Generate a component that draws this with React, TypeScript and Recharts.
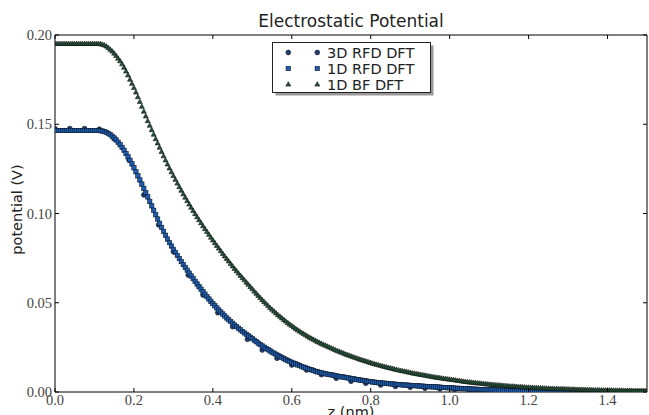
import React from 'react';
import { ScatterChart, Scatter, XAxis, YAxis, Legend, Label } from 'recharts';

const TITLE = 'Electrostatic Potential';
const X_LABEL = 'z (nm)';
const Y_LABEL = 'potential (V)';
const SERIES_NAMES = ['3D RFD DFT', '1D RFD DFT', '1D BF DFT'];
const X_TICKS = [0, 0.2, 0.4, 0.6, 0.8, 1.0, 1.2, 1.4];
const Y_TICKS = [0, 0.05, 0.1, 0.15, 0.2];

// 1D grid, nm
const Z_1D = [
  0, 0.005, 0.01, 0.015, 0.02, 0.025, 0.03, 0.035, 0.04, 0.045,
  0.05, 0.055, 0.06, 0.065, 0.07, 0.075, 0.08, 0.085, 0.09, 0.095,
  0.1, 0.105, 0.11, 0.115, 0.12, 0.125, 0.13, 0.135, 0.14, 0.145,
  0.15, 0.155, 0.16, 0.165, 0.17, 0.175, 0.18, 0.185, 0.19, 0.195,
  0.2, 0.205, 0.21, 0.215, 0.22, 0.225, 0.23, 0.235, 0.24, 0.245,
  0.25, 0.255, 0.26, 0.265, 0.27, 0.275, 0.28, 0.285, 0.29, 0.295,
  0.3, 0.305, 0.31, 0.315, 0.32, 0.325, 0.33, 0.335, 0.34, 0.345,
  0.35, 0.355, 0.36, 0.365, 0.37, 0.375, 0.38, 0.385, 0.39, 0.395,
  0.4, 0.405, 0.41, 0.415, 0.42, 0.425, 0.43, 0.435, 0.44, 0.445,
  0.45, 0.455, 0.46, 0.465, 0.47, 0.475, 0.48, 0.485, 0.49, 0.495,
  0.5, 0.505, 0.51, 0.515, 0.52, 0.525, 0.53, 0.535, 0.54, 0.545,
  0.55, 0.555, 0.56, 0.565, 0.57, 0.575, 0.58, 0.585, 0.59, 0.595,
  0.6, 0.605, 0.61, 0.615, 0.62, 0.625, 0.63, 0.635, 0.64, 0.645,
  0.65, 0.655, 0.66, 0.665, 0.67, 0.675, 0.68, 0.685, 0.69, 0.695,
  0.7, 0.705, 0.71, 0.715, 0.72, 0.725, 0.73, 0.735, 0.74, 0.745,
  0.75, 0.755, 0.76, 0.765, 0.77, 0.775, 0.78, 0.785, 0.79, 0.795,
  0.8, 0.805, 0.81, 0.815, 0.82, 0.825, 0.83, 0.835, 0.84, 0.845,
  0.85, 0.855, 0.86, 0.865, 0.87, 0.875, 0.88, 0.885, 0.89, 0.895,
  0.9, 0.905, 0.91, 0.915, 0.92, 0.925, 0.93, 0.935, 0.94, 0.945,
  0.95, 0.955, 0.96, 0.965, 0.97, 0.975, 0.98, 0.985, 0.99, 0.995,
  1.0, 1.005, 1.01, 1.015, 1.02, 1.025, 1.03, 1.035, 1.04, 1.045,
  1.05, 1.055, 1.06, 1.065, 1.07, 1.075, 1.08, 1.085, 1.09, 1.095,
  1.1, 1.105, 1.11, 1.115, 1.12, 1.125, 1.13, 1.135, 1.14, 1.145,
  1.15, 1.155, 1.16, 1.165, 1.17, 1.175, 1.18, 1.185, 1.19, 1.195,
  1.2, 1.205, 1.21, 1.215, 1.22, 1.225, 1.23, 1.235, 1.24, 1.245,
  1.25, 1.255, 1.26, 1.265, 1.27, 1.275, 1.28, 1.285, 1.29, 1.295,
  1.3, 1.305, 1.31, 1.315, 1.32, 1.325, 1.33, 1.335, 1.34, 1.345,
  1.35, 1.355, 1.36, 1.365, 1.37, 1.375, 1.38, 1.385, 1.39, 1.395,
  1.4, 1.405, 1.41, 1.415, 1.42, 1.425, 1.43, 1.435, 1.44, 1.445,
  1.45, 1.455, 1.46, 1.465, 1.47, 1.475, 1.48, 1.485, 1.49, 1.495,
  1.5,
];

// 1D BF DFT potential, in units of 1e-4 V
const BF_1D_E4 = [
  1950, 1950, 1950, 1950, 1950, 1950, 1950, 1950, 1950, 1950,
  1950, 1950, 1950, 1950, 1950, 1950, 1950, 1950, 1950, 1950,
  1950, 1950, 1950, 1949, 1946, 1942, 1936, 1928, 1918, 1908,
  1896, 1883, 1868, 1853, 1836, 1817, 1796, 1774, 1750, 1727,
  1703, 1678, 1652, 1625, 1598, 1571, 1544, 1518, 1492, 1467,
  1442, 1417, 1393, 1369, 1345, 1321, 1298, 1275, 1253, 1231,
  1210, 1189, 1168, 1148, 1128, 1108, 1089, 1070, 1051, 1033,
  1015, 997, 980, 963, 946, 929, 913, 897, 881, 865,
  850, 834, 819, 804, 789, 774, 760, 746, 732, 718,
  704, 690, 677, 664, 651, 638, 626, 613, 601, 588,
  576, 563, 551, 539, 527, 515, 504, 493, 482, 471,
  461, 451, 441, 431, 422, 413, 404, 395, 386, 378,
  370, 362, 354, 346, 339, 332, 325, 318, 311, 305,
  299, 293, 287, 281, 276, 270, 265, 260, 255, 250,
  245, 240, 235, 230, 226, 221, 217, 212, 208, 204,
  200, 196, 192, 188, 184, 180, 177, 173, 170, 166,
  163, 159, 156, 153, 150, 147, 144, 141, 138, 135,
  133, 130, 127, 124, 122, 119, 117, 115, 113, 110,
  108, 105, 103, 101, 99, 97, 95, 93, 91, 89,
  87, 85, 83, 81, 80, 78, 76, 74, 73, 71,
  70, 68, 67, 65, 63, 62, 60, 58, 57, 55,
  54, 53, 52, 50, 49, 48, 47, 45, 44, 43,
  42, 41, 40, 39, 38, 37, 36, 35, 34, 33,
  32, 31, 31, 30, 29, 28, 28, 27, 26, 25,
  25, 24, 24, 23, 22, 22, 21, 21, 20, 19,
  19, 18, 18, 17, 17, 17, 16, 16, 16, 15,
  15, 14, 14, 14, 13, 13, 13, 12, 12, 12,
  11, 11, 11, 10, 10, 10, 10, 9, 9, 9,
  9, 9, 9, 8, 8, 8, 8, 8, 7, 7,
  7, 7, 7, 6, 6, 6, 6, 6, 6, 5,
  5,
];

// 1D RFD DFT potential, in units of 1e-4 V
const RFD_1D_E4 = [
  1465, 1465, 1465, 1465, 1465, 1465, 1465, 1465, 1465, 1465,
  1465, 1465, 1465, 1465, 1465, 1465, 1465, 1465, 1465, 1465,
  1465, 1465, 1465, 1464, 1462, 1459, 1455, 1449, 1442, 1433,
  1423, 1412, 1399, 1385, 1370, 1354, 1336, 1318, 1298, 1278,
  1256, 1234, 1211, 1188, 1165, 1141, 1117, 1093, 1068, 1043,
  1018, 993, 969, 945, 922, 900, 878, 857, 837, 818,
  799, 782, 765, 748, 731, 714, 698, 682, 666, 650,
  635, 620, 605, 590, 576, 562, 548, 534, 521, 508,
  495, 483, 471, 459, 448, 437, 426, 415, 405, 395,
  385, 375, 366, 357, 348, 339, 331, 323, 315, 307,
  299, 290, 282, 274, 266, 258, 251, 244, 237, 230,
  223, 217, 211, 205, 199, 193, 187, 181, 176, 171,
  166, 161, 157, 152, 148, 143, 139, 135, 131, 127,
  124, 120, 116, 113, 110, 107, 105, 102, 100, 98,
  96, 94, 92, 89, 87, 85, 84, 82, 80, 78,
  76, 74, 72, 70, 68, 66, 65, 63, 61, 59,
  58, 56, 55, 53, 52, 51, 50, 49, 48, 47,
  46, 45, 44, 43, 42, 41, 40, 39, 39, 38,
  37, 36, 36, 35, 34, 33, 33, 32, 31, 30,
  30, 29, 29, 28, 28, 27, 26, 25, 25, 24,
  24, 23, 22, 21, 21, 20, 20, 19, 19, 18,
  18, 17, 16, 16, 15, 14, 14, 13, 13, 12,
  12, 12, 12, 11, 11, 10, 10, 10, 10, 9,
  9, 9, 8, 8, 8, 7, 7, 7, 7, 6,
  6, 6, 6, 6, 6, 6, 5, 5, 5, 5,
  5, 5, 4, 4, 4, 4, 4, 4, 4, 4,
  3, 3, 3, 3, 3, 3, 3, 3, 3, 3,
  2, 2, 2, 2, 2, 2, 2, 2, 2, 2,
  2, 2, 2, 2, 2, 2, 2, 1, 1, 1,
  1, 1, 1, 1, 1, 1, 1, 1, 1, 1,
  1,
];

// 3D grid, nm
const Z_3D = [
  0, 0.0375, 0.075, 0.1125, 0.15, 0.1875, 0.225, 0.2625, 0.3, 0.3375,
  0.375, 0.4125, 0.45, 0.4875, 0.525, 0.5625, 0.6, 0.6375, 0.675, 0.7125,
  0.75, 0.7875, 0.825, 0.8625, 0.9, 0.9375, 0.975, 1.0125, 1.05, 1.0875,
  1.125, 1.1625, 1.2, 1.2375, 1.275, 1.3125, 1.35, 1.3875, 1.425, 1.4625,
  1.5,
];

// 3D RFD DFT potential, in units of 1e-4 V
const RFD_3D_E4 = [
  1475, 1476, 1476, 1472, 1418, 1300, 1104, 936, 786, 655,
  543, 444, 366, 295, 235, 189, 151, 123, 97, 77,
  60, 49, 39, 31, 26, 21, 17, 14, 11, 9,
  7, 6, 5, 4, 3, 3, 2, 2, 2, 1,
  1,
];

const data3D = Z_3D.map((z, i) => ({ z, v: RFD_3D_E4[i] / 10000 }));
const dataRFD = Z_1D.map((z, i) => ({ z, v: RFD_1D_E4[i] / 10000 }));
const dataBF = Z_1D.map((z, i) => ({ z, v: BF_1D_E4[i] / 10000 }));

const SERIF = '"Liberation Serif", "Times New Roman", serif';
const SANS = '"DejaVu Sans", "Bitstream Vera Sans", sans-serif';

const CircleMark = (cx: number, cy: number) => (
  <circle cx={cx} cy={cy} r={2.4} fill="#1c3f78" stroke="#111" strokeWidth={0.6} />
);
const SquareMark = (cx: number, cy: number) => (
  <rect x={cx - 2.2} y={cy - 2.2} width={4.4} height={4.4} fill="#1f5eae" stroke="#0c1a30" strokeWidth={0.6} />
);
const TriMark = (cx: number, cy: number) => (
  <path
    d={`M${cx},${cy - 2.8}L${cx + 2.5},${cy + 1.6}L${cx - 2.5},${cy + 1.6}Z`}
    fill="#24553a"
    stroke="#111"
    strokeWidth={0.6}
  />
);
const NoMark = () => <g />;

const MARKS = [CircleMark, SquareMark, TriMark];

const BottomTick = (props: any) => {
  const { x, y, payload } = props;
  return (
    <g>
      <line x1={x} y1={y} x2={x} y2={y - 4} stroke="#000" strokeWidth={1} />
      <text x={x} y={y + 13} textAnchor="middle" fontFamily={SERIF} fontSize={14.5} fill="#444">
        {Number(payload.value).toFixed(1)}
      </text>
    </g>
  );
};
const TopTick = (props: any) => {
  const { x, y } = props;
  return <line x1={x} y1={y} x2={x} y2={y + 4} stroke="#000" strokeWidth={1} />;
};
const LeftTick = (props: any) => {
  const { x, y, payload } = props;
  return (
    <g>
      <line x1={x} y1={y} x2={x + 4} y2={y} stroke="#000" strokeWidth={1} />
      <text x={x - 3} y={y + 5} textAnchor="end" fontFamily={SERIF} fontSize={14.5} fill="#444">
        {Number(payload.value).toFixed(2)}
      </text>
    </g>
  );
};
const RightTick = (props: any) => {
  const { x, y } = props;
  return <line x1={x} y1={y} x2={x - 4} y2={y} stroke="#000" strokeWidth={1} />;
};

const renderLegend = () => (
  <svg width={166} height={60} style={{ display: 'block', overflow: 'visible' }}>
    <rect x={3.5} y={3.5} width={158} height={50} fill="#999" />
    <rect x={0.5} y={0.5} width={158} height={50} fill="#fff" stroke="#222" strokeWidth={1} />
    {SERIES_NAMES.map((name, i) => {
      const cy = 10.5 + i * 16;
      const M = MARKS[i];
      return (
        <g key={name}>
          {M(16.3, cy)}
          {M(45.3, cy)}
          <text x={55} y={cy + 5} fontFamily={SANS} fontSize={14.5} fill="#222">
            {name}
          </text>
        </g>
      );
    })}
  </svg>
);

export default function App() {
  return (
    <div style={{ position: 'absolute', left: 0, top: 0, background: '#fff' }}>
      <ScatterChart width={649} height={415} margin={{ top: 34, right: 1, bottom: 0, left: 0 }}>
        <XAxis
          xAxisId="bottom"
          type="number"
          dataKey="z"
          orientation="bottom"
          domain={[0, 1.5]}
          ticks={X_TICKS}
          interval={0}
          height={23}
          tickSize={0}
          tickMargin={0}
          tickLine={false}
          axisLine={{ stroke: '#000', strokeWidth: 1 }}
          tick={BottomTick}
          allowDataOverflow
        >
          <Label
            content={(p: any) => {
              const vb = p.viewBox || {};
              return (
                <text x={vb.x + vb.width / 2} y={vb.y + 24.5} textAnchor="middle" fontFamily={SANS} fontSize={14.5} fill="#222">
                  {X_LABEL}
                </text>
              );
            }}
          />
        </XAxis>
        <XAxis
          xAxisId="top"
          type="number"
          dataKey="z"
          orientation="top"
          domain={[0, 1.5]}
          ticks={X_TICKS}
          interval={0}
          height={1}
          tickSize={0}
          tickMargin={0}
          tickLine={false}
          axisLine={{ stroke: '#000', strokeWidth: 1 }}
          tick={TopTick}
          allowDataOverflow
        >
          <Label
            content={(p: any) => {
              const vb = p.viewBox || {};
              return (
                <text x={vb.x + vb.width / 2} y={vb.y + vb.height - 8} textAnchor="middle" fontFamily={SANS} fontSize={17} fill="#222">
                  {TITLE}
                </text>
              );
            }}
          />
        </XAxis>
        <YAxis
          yAxisId="left"
          type="number"
          dataKey="v"
          orientation="left"
          domain={[0, 0.2]}
          ticks={Y_TICKS}
          interval={0}
          width={55}
          tickSize={0}
          tickMargin={0}
          tickLine={false}
          axisLine={{ stroke: '#000', strokeWidth: 1 }}
          tick={LeftTick}
          allowDataOverflow
        >
          <Label
            content={(p: any) => {
              const vb = p.viewBox || {};
              const cx = vb.x + 21.5;
              const cy = vb.y + vb.height / 2 - 4;
              return (
                <text
                  x={cx}
                  y={cy}
                  transform={`rotate(-90 ${cx} ${cy})`}
                  textAnchor="middle"
                  fontFamily={SANS}
                  fontSize={14.5}
                  fill="#222"
                >
                  {Y_LABEL}
                </text>
              );
            }}
          />
        </YAxis>
        <YAxis
          yAxisId="right"
          type="number"
          dataKey="v"
          orientation="right"
          domain={[0, 0.2]}
          ticks={Y_TICKS}
          interval={0}
          width={1}
          tickSize={0}
          tickMargin={0}
          tickLine={false}
          axisLine={{ stroke: '#000', strokeWidth: 1 }}
          tick={RightTick}
          allowDataOverflow
        />
        <Legend
          layout="vertical"
          align="center"
          verticalAlign="middle"
          wrapperStyle={{ position: 'absolute', left: 272, top: 42, width: 166, height: 60 }}
          content={renderLegend}
        />
        <Scatter
          name="frame"
          legendType="none"
          data={data3D}
          xAxisId="top"
          yAxisId="right"
          isAnimationActive={false}
          shape={NoMark}
        />
        <Scatter
          name={SERIES_NAMES[0]}
          data={data3D}
          xAxisId="bottom"
          yAxisId="left"
          isAnimationActive={false}
          shape={(p: any) => CircleMark(p.cx, p.cy)}
        />
        <Scatter
          name={SERIES_NAMES[1]}
          data={dataRFD}
          xAxisId="bottom"
          yAxisId="left"
          isAnimationActive={false}
          shape={(p: any) => SquareMark(p.cx, p.cy)}
        />
        <Scatter
          name={SERIES_NAMES[2]}
          data={dataBF}
          xAxisId="bottom"
          yAxisId="left"
          isAnimationActive={false}
          shape={(p: any) => TriMark(p.cx, p.cy)}
        />
      </ScatterChart>
    </div>
  );
}
